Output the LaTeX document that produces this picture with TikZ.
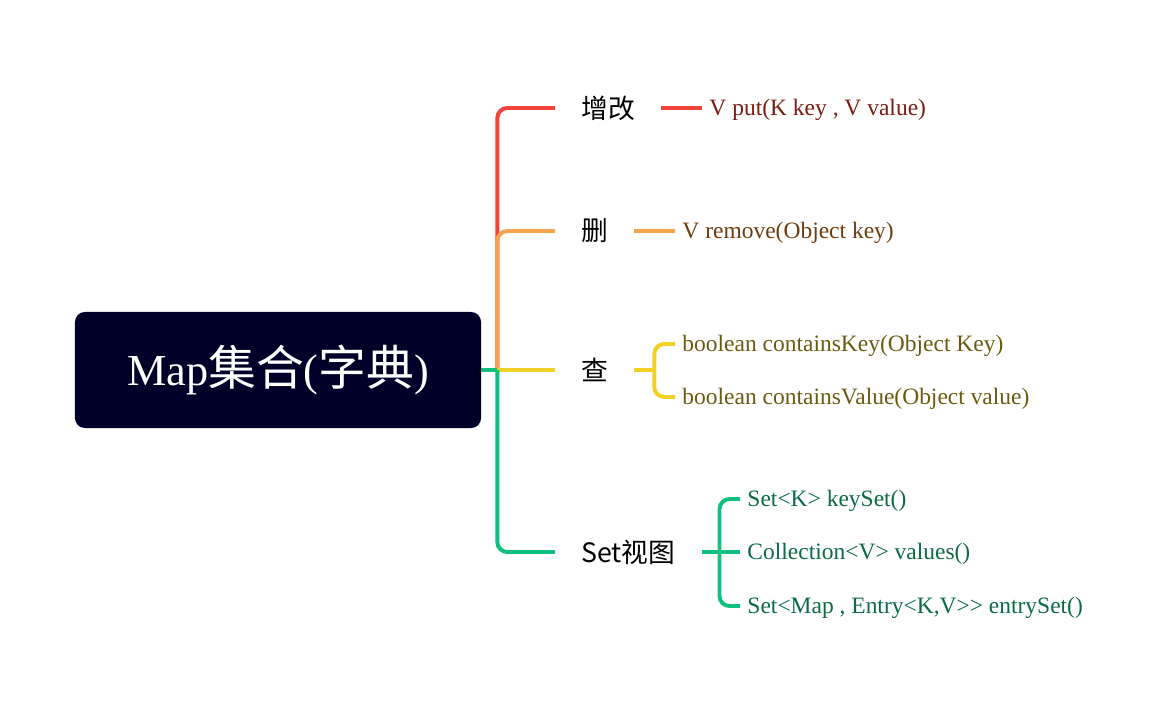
\documentclass[tikz,border=0pt]{standalone}
\usepackage{fontspec}
\setmainfont{Liberation Serif}
\newfontfamily\cjk{Noto Sans CJK SC}
\usetikzlibrary{calc}
\definecolor{rootFill}{RGB}{0,0,40}
\definecolor{cRed}{HTML}{F4433A}
\definecolor{cOrange}{HTML}{F7A34F}
\definecolor{cYellow}{HTML}{F3D124}
\definecolor{cGreen}{HTML}{10C07E}
\definecolor{tRed}{HTML}{7A1C14}
\definecolor{tOrange}{HTML}{6E3D0D}
\definecolor{tYellow}{HTML}{6B5B10}
\definecolor{tGreen}{HTML}{0B6B45}
\newcommand{\zhRoot}[1]{{\cjk\fontsize{34}{36}\selectfont #1}}

\begin{document}
\begin{tikzpicture}[x=0.025cm, y=-0.025cm]
            \tikzstyle{root} = [fill=rootFill, text=white, rounded corners=0.25cm, minimum width=10.15cm, minimum height=2.9cm, font=\fontsize{31.5}{36}\selectfont]
            \tikzstyle{branch} = [line width=2.8pt, rounded corners=0.25cm]
            \tikzstyle{topic} = [anchor=west, inner xsep=0.65cm, font=\cjk\fontsize{19}{22}\selectfont]
            \tikzstyle{leaf} = [anchor=west, inner xsep=0.18cm, text height=14pt, text depth=3.4pt, font=\fontsize{16.7}{19}\selectfont]
            \useasboundingbox (0, 0) rectangle (1164, 705);

            \node[root] (map) at (278, 370) {Map\zhRoot{集合}(\zhRoot{字典})};
            \coordinate (hub) at ($(map.east) + (16, 0)$);

            \node[topic] (add) at (555, 108) {增改};
            \node[topic] (del) at (555, 231) {删};
            \node[topic] (find) at (555, 370) {查};
            \node[topic] (view) at (555, 552) {Set视图};

            \node[leaf, text=tRed] (put) at (702, 108) {V put(K key , V value)};
            \node[leaf, text=tOrange] (remove) at (675, 231) {V remove(Object key)};
            \node[leaf, text=tYellow] (hasKey) at (675, 344) {boolean containsKey(Object Key)};
            \node[leaf, text=tYellow] (hasValue) at (675, 397) {boolean containsValue(Object value)};
            \node[leaf, text=tGreen] (keys) at (740, 499) {Set<K> keySet()};
            \node[leaf, text=tGreen] (values) at (740, 552) {Collection<V> values()};
            \node[leaf, text=tGreen] (entries) at (740, 606) {Set<Map , Entry<K,V>{}> entrySet()};

            % main branches
            \draw[branch, cRed] (hub) |- (add.west);
            \draw[branch, cOrange] (hub) |- (del.west);
            \draw[branch, cYellow] (hub) -- (find.west);
            \draw[line width=2.8pt, cGreen] (map.east) -- (hub);
            \draw[branch, cGreen] (hub) |- (view.west);

            % leaves
            \draw[branch, cRed] (add.east) -- (put.west);
            \draw[branch, cOrange] (del.east) -- (remove.west);
            \draw[branch, cYellow] (find.east) -- ++(20, 0) coordinate (findFork);
            \draw[branch, cYellow] (findFork) |- (hasKey.west);
            \draw[branch, cYellow] (findFork) |- (hasValue.west);
            \draw[branch, cGreen] (view.east) -- ++(18, 0) coordinate (viewFork);
            \draw[branch, cGreen] (viewFork) |- (keys.west);
            \draw[branch, cGreen] (viewFork) -- (values.west);
            \draw[branch, cGreen] (viewFork) |- (entries.west);
\end{tikzpicture}
\end{document}
